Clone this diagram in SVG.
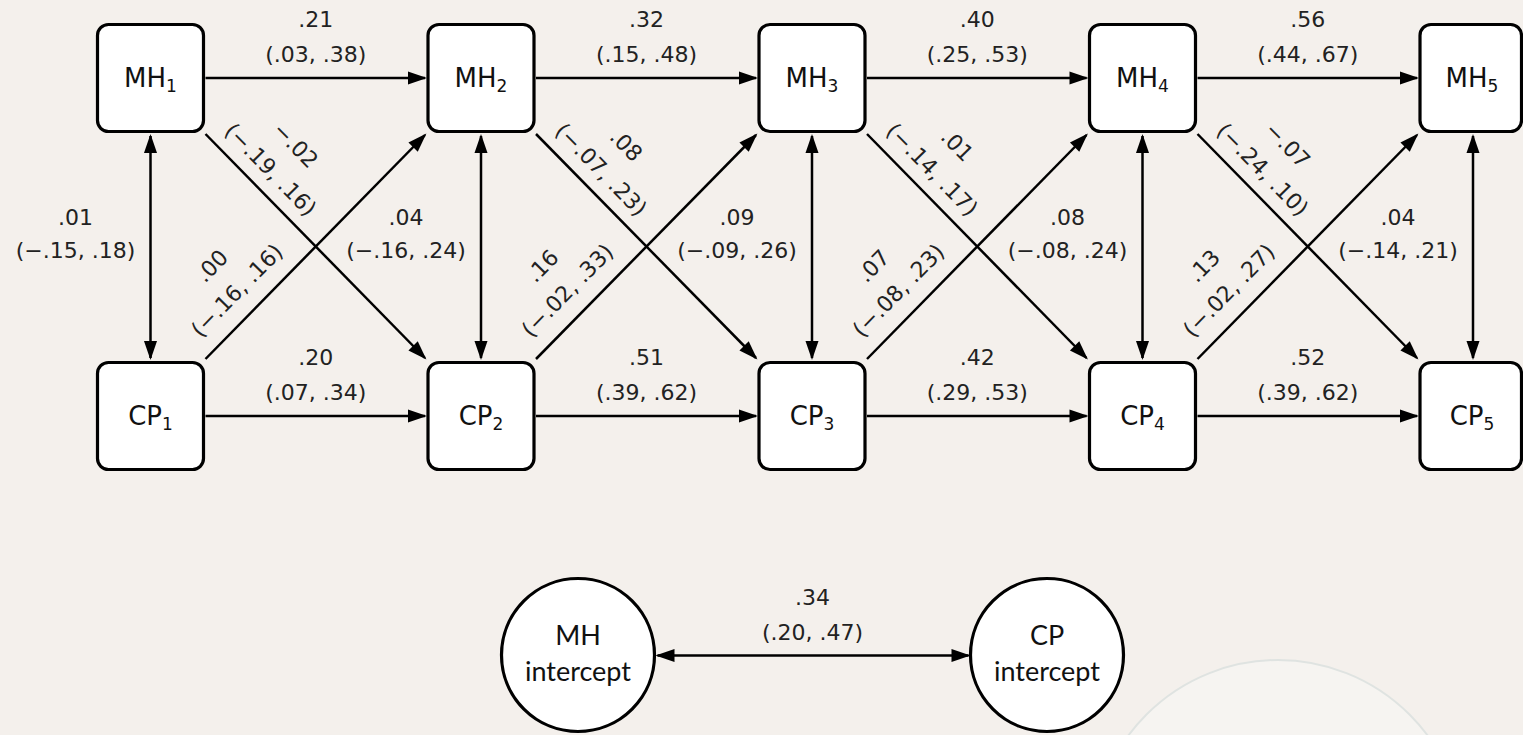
<svg xmlns="http://www.w3.org/2000/svg" width="1523" height="735" viewBox="0 0 1523 735">
<style>
.box{fill:#fff;stroke:#000;stroke-width:3.2}
.circ{fill:#fff;stroke:#000;stroke-width:3.2}
.ln{stroke:#000;stroke-width:2.5;fill:none;marker-end:url(#ah)}
.bi{stroke:#000;stroke-width:2.5;fill:none;marker-end:url(#ah);marker-start:url(#ah)}
.nl{font-family:"DejaVu Sans",sans-serif;font-size:26px;fill:#111;text-anchor:middle}
.sub{font-size:17px}
.el{font-family:"DejaVu Sans",sans-serif;font-size:22px;fill:#222;text-anchor:middle}
.cl{font-family:Lato,"DejaVu Sans",sans-serif;font-size:27px;fill:#111;text-anchor:middle}
</style>
<defs>
<marker id="ah" markerUnits="userSpaceOnUse" markerWidth="19" markerHeight="13" refX="17" refY="6.5" orient="auto-start-reverse" overflow="visible">
<path d="M0,0 L19,6.5 L0,13 z" fill="#000"/>
</marker>
</defs>
<rect width="1523" height="735" fill="#f4f0ec"/>
<path d="M1092,846 A186,186 0 0 1 1464,846 Z" fill="#f6f4f1" stroke="#dfe3e1" stroke-width="2"/>

<g id="connectors">
<line class="ln" x1="205.5" y1="78" x2="425" y2="78"/>
<line class="ln" x1="536" y1="78" x2="756" y2="78"/>
<line class="ln" x1="867" y1="78" x2="1086.5" y2="78"/>
<line class="ln" x1="1197.5" y1="78" x2="1417" y2="78"/>
<line class="ln" x1="205.5" y1="416" x2="425" y2="416"/>
<line class="ln" x1="536" y1="416" x2="756" y2="416"/>
<line class="ln" x1="867" y1="416" x2="1086.5" y2="416"/>
<line class="ln" x1="1197.5" y1="416" x2="1417" y2="416"/>
<line class="bi" x1="150.5" y1="136" x2="150.5" y2="358"/>
<line class="bi" x1="481" y1="136" x2="481" y2="358"/>
<line class="bi" x1="812" y1="136" x2="812" y2="358"/>
<line class="bi" x1="1142.5" y1="136" x2="1142.5" y2="358"/>
<line class="bi" x1="1473" y1="136" x2="1473" y2="358"/>
<line class="ln" x1="205.5" y1="134" x2="425" y2="358"/>
<line class="ln" x1="536" y1="134" x2="756" y2="358"/>
<line class="ln" x1="867" y1="134" x2="1086.5" y2="358"/>
<line class="ln" x1="1197.5" y1="134" x2="1417" y2="358"/>
<line class="ln" x1="205.5" y1="359" x2="425" y2="135"/>
<line class="ln" x1="536" y1="359" x2="756" y2="135"/>
<line class="ln" x1="867" y1="359" x2="1086.5" y2="135"/>
<line class="ln" x1="1197.5" y1="359" x2="1417" y2="135"/>
<line class="bi" x1="657.5" y1="655.5" x2="968.5" y2="655.5"/>
</g>

<g id="edge-labels">
<text class="el" x="315.75" y="27">.21</text><text class="el" x="315.75" y="62">(.03, .38)</text>
<text class="el" x="646.5" y="27">.32</text><text class="el" x="646.5" y="62">(.15, .48)</text>
<text class="el" x="977.25" y="27">.40</text><text class="el" x="977.25" y="62">(.25, .53)</text>
<text class="el" x="1307.75" y="27">.56</text><text class="el" x="1307.75" y="62">(.44, .67)</text>

<text class="el" x="315.75" y="365">.20</text><text class="el" x="315.75" y="400">(.07, .34)</text>
<text class="el" x="646.5" y="365">.51</text><text class="el" x="646.5" y="400">(.39, .62)</text>
<text class="el" x="977.25" y="365">.42</text><text class="el" x="977.25" y="400">(.29, .53)</text>
<text class="el" x="1307.75" y="365">.52</text><text class="el" x="1307.75" y="400">(.39, .62)</text>

<text class="el" x="75.5" y="225">.01</text><text class="el" x="75.5" y="258">(−.15, .18)</text>
<text class="el" x="406" y="225">.04</text><text class="el" x="406" y="258">(−.16, .24)</text>
<text class="el" x="737" y="225">.09</text><text class="el" x="737" y="258">(−.09, .26)</text>
<text class="el" x="1067.5" y="225">.08</text><text class="el" x="1067.5" y="258">(−.08, .24)</text>
<text class="el" x="1398" y="225">.04</text><text class="el" x="1398" y="258">(−.14, .21)</text>

<g transform="translate(255.2,184.7) rotate(45.58)"><text class="el" x="0" y="-49">−.02</text><text class="el" x="0" y="-14">(−.19, .16)</text></g>
<g transform="translate(585.7,184.7) rotate(45.58)"><text class="el" x="0" y="-49">.08</text><text class="el" x="0" y="-14">(−.07, .23)</text></g>
<g transform="translate(916.7,184.7) rotate(45.58)"><text class="el" x="0" y="-49">.01</text><text class="el" x="0" y="-14">(−.14, .17)</text></g>
<g transform="translate(1247.2,184.7) rotate(45.58)"><text class="el" x="0" y="-49">−.07</text><text class="el" x="0" y="-14">(−.24, .10)</text></g>

<g transform="translate(255.2,308.3) rotate(-45.58)"><text class="el" x="0" y="-53">.00</text><text class="el" x="0" y="-18">(−.16, .16)</text></g>
<g transform="translate(585.7,308.3) rotate(-45.58)"><text class="el" x="0" y="-53">.16</text><text class="el" x="0" y="-18">(−.02, .33)</text></g>
<g transform="translate(916.7,308.3) rotate(-45.58)"><text class="el" x="0" y="-53">.07</text><text class="el" x="0" y="-18">(−.08, .23)</text></g>
<g transform="translate(1247.2,308.3) rotate(-45.58)"><text class="el" x="0" y="-53">.13</text><text class="el" x="0" y="-18">(−.02, .27)</text></g>

<text class="el" x="812.5" y="605">.34</text><text class="el" x="812.5" y="640">(.20, .47)</text>
</g>

<g id="MH1"><rect class="box" x="97.5" y="24.5" width="106" height="107" rx="11"/><text class="nl" x="150.5" y="87">MH<tspan class="sub" dy="5">1</tspan></text></g>
<g id="MH2"><rect class="box" x="428" y="24.5" width="106" height="107" rx="11"/><text class="nl" x="481" y="87">MH<tspan class="sub" dy="5">2</tspan></text></g>
<g id="MH3"><rect class="box" x="759" y="24.5" width="106" height="107" rx="11"/><text class="nl" x="812" y="87">MH<tspan class="sub" dy="5">3</tspan></text></g>
<g id="MH4"><rect class="box" x="1089.5" y="24.5" width="106" height="107" rx="11"/><text class="nl" x="1142.5" y="87">MH<tspan class="sub" dy="5">4</tspan></text></g>
<g id="MH5"><rect class="box" x="1420" y="24.5" width="101.5" height="107" rx="11"/><text class="nl" x="1472" y="87">MH<tspan class="sub" dy="5">5</tspan></text></g>

<g id="CP1"><rect class="box" x="97.5" y="362.5" width="106" height="107" rx="11"/><text class="nl" x="150.5" y="425">CP<tspan class="sub" dy="5">1</tspan></text></g>
<g id="CP2"><rect class="box" x="428" y="362.5" width="106" height="107" rx="11"/><text class="nl" x="481" y="425">CP<tspan class="sub" dy="5">2</tspan></text></g>
<g id="CP3"><rect class="box" x="759" y="362.5" width="106" height="107" rx="11"/><text class="nl" x="812" y="425">CP<tspan class="sub" dy="5">3</tspan></text></g>
<g id="CP4"><rect class="box" x="1089.5" y="362.5" width="106" height="107" rx="11"/><text class="nl" x="1142.5" y="425">CP<tspan class="sub" dy="5">4</tspan></text></g>
<g id="CP5"><rect class="box" x="1420" y="362.5" width="101.5" height="107" rx="11"/><text class="nl" x="1472" y="425">CP<tspan class="sub" dy="5">5</tspan></text></g>

<g id="MH-intercept"><circle class="circ" cx="578" cy="655" r="76.5"/><text class="cl" x="578" y="645">MH</text><text class="cl" x="578" y="681">intercept</text></g>
<g id="CP-intercept"><circle class="circ" cx="1047" cy="655" r="76.5"/><text class="cl" x="1047" y="645">CP</text><text class="cl" x="1047" y="681">intercept</text></g>
</svg>
